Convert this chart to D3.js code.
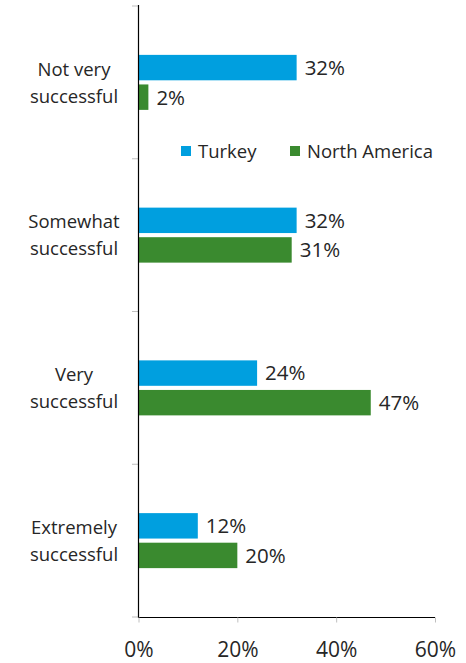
<!DOCTYPE html>
<html><head><meta charset="utf-8">
<script src="https://cdn.jsdelivr.net/npm/d3@7"></script>
<style>body{margin:0;background:#fff}svg{display:block}text{font-family:"Open Sans",sans-serif;fill:#262626}</style>
</head><body><div id="chart"></div>
<script>
const categories = ["Not very|successful","Somewhat|successful","Very|successful","Extremely|successful"];
const seriesNames = ["Turkey","North America"];
const turkey = [32,32,24,12];
const northAmerica = [2,31,47,20];
const xTicks = [0,20,40,60];
const colors = ["#009FDF","#3A8A2F"];

const W=466,H=663;
const svg=d3.select("#chart").append("svg").attr("width",W).attr("height",H);
const x=d3.scaleLinear().domain([0,60]).range([138.5,435]);
const y=d3.scaleBand().domain(categories).range([6,617]);
const sub=d3.scaleBand().domain(seriesNames).range([y.bandwidth()/2-27.5,y.bandwidth()/2+27.5]).paddingInner(0.14);
const data=[turkey,northAmerica];

// y tick marks
svg.append("g").selectAll("line").data(d3.range(categories.length+1)).join("line")
  .attr("x1",132).attr("x2",138.5)
  .attr("y1",i=>6+i*y.step()).attr("y2",i=>6+i*y.step())
  .attr("stroke","#bfbfbf").attr("stroke-width",1);

// x axis
const xa=svg.append("g").attr("transform","translate(0,617.5)")
  .call(d3.axisBottom(x).tickValues(xTicks).tickFormat(d=>d+"%").tickSize(5).tickPadding(20));
xa.attr("font-size",null).attr("font-family",null);
xa.select(".domain").attr("stroke","#000").attr("d","M138.5,0H435");
xa.selectAll(".tick line").attr("stroke","#bfbfbf");
xa.selectAll(".tick text").style("font-size","21px").style("fill","#262626").style("font-family","'Open Sans', sans-serif");

// bars
seriesNames.forEach((s,si)=>{
  const g=svg.append("g");
  g.selectAll("rect").data(categories).join("rect")
    .attr("x",x(0)).attr("y",c=>y(c)+sub(s))
    .attr("width",(c,i)=>x(data[si][i])-x(0)).attr("height",sub.bandwidth())
    .attr("fill",colors[si]);
  g.selectAll("text").data(categories).join("text")
    .attr("x",(c,i)=>x(data[si][i])+8).attr("y",c=>y(c)+sub(s)+sub.bandwidth()/2)
    .attr("dy","0.36em").style("font-size","20.5px").text((c,i)=>data[si][i]+"%");
});

// y axis line
svg.append("line").attr("x1",138.5).attr("x2",138.5).attr("y1",5).attr("y2",617.5).attr("stroke","#000").attr("stroke-width",1.2);

// category labels
categories.forEach(c=>{
  const lines=c.split("|");
  const cy=y(c)+y.bandwidth()/2;
  lines.forEach((l,i)=>{
    svg.append("text").attr("x",74).attr("y",cy+(i-0.5)*27).attr("dy","0.36em")
      .attr("text-anchor","middle").style("font-size","18.5px").text(l);
  });
});

// legend
const lx=[181,290];
seriesNames.forEach((s,i)=>{
  svg.append("rect").attr("x",lx[i]).attr("y",146).attr("width",10).attr("height",10).attr("fill",colors[i]);
  svg.append("text").attr("x",lx[i]+17).attr("y",151).attr("dy","0.36em").style("font-size","18.5px").text(s);
});
</script></body></html>
